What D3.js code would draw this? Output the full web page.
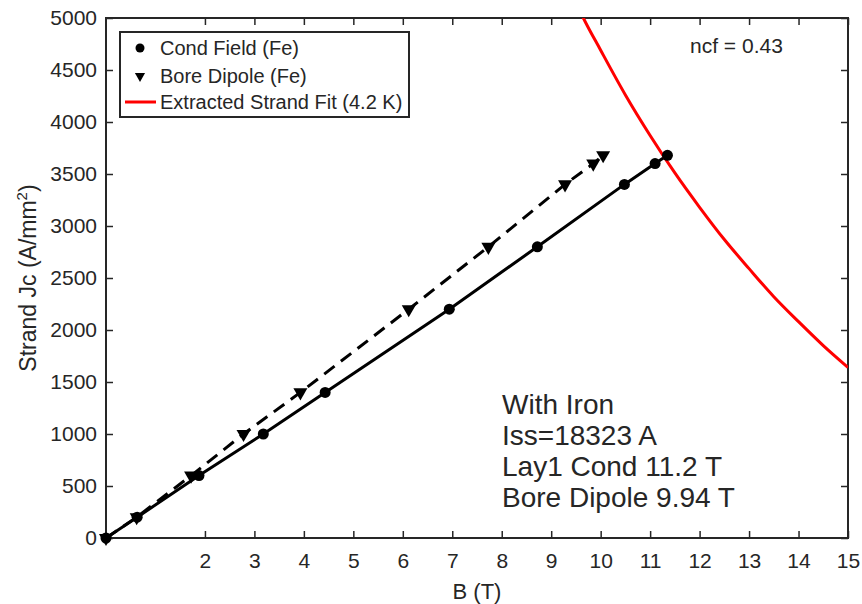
<!DOCTYPE html>
<html>
<head>
<meta charset="utf-8">
<script src="https://cdn.jsdelivr.net/npm/d3@7"></script>
<style>
  body { margin: 0; background: #fff; }
  text { font-family: "Liberation Sans", Arial, Helvetica, sans-serif; fill: #262626; }
</style>
</head>
<body>
<svg width="862" height="604"></svg>
<script>
// conductor field points (circles)
var condB  = [0, 0.63, 1.88, 3.18, 4.43, 6.94, 8.72, 10.48, 11.1, 11.35];
var condJc = [0, 200, 600, 1000, 1400, 2200, 2800, 3400, 3600, 3680];
// bore dipole points (triangles)
var boreB  = [0, 0.62, 1.72, 2.78, 3.93, 6.12, 7.73, 9.28, 9.85, 10.05];
var boreJc = [0, 200, 600, 1000, 1400, 2200, 2800, 3400, 3600, 3680];
// extracted strand fit
var fitB  = [9.5, 9.65, 10, 10.5, 11, 11.5, 12, 12.5, 13, 13.5, 14, 14.5, 15];
var fitJc = [5150, 5000, 4690, 4260, 3870, 3510, 3180, 2870, 2590, 2320, 2080, 1850, 1640];

var xTicks = [2, 3, 4, 5, 6, 7, 8, 9, 10, 11, 12, 13, 14, 15];
var yTicks = [0, 500, 1000, 1500, 2000, 2500, 3000, 3500, 4000, 4500, 5000];

var legendLabels = ["Cond Field (Fe)", "Bore Dipole (Fe)", "Extracted Strand Fit (4.2 K)"];
var notes = ["With Iron", "Iss=18323 A", "Lay1 Cond 11.2 T", "Bore Dipole 9.94 T"];

var svg = d3.select("svg");
var pL = 106, pR = 848, pT = 18, pB = 538;

var x = d3.scaleLinear().domain([0, 15]).range([pL, pR]);
var y = d3.scaleLinear().domain([0, 5000]).range([pB, pT]);

var cond = condB.map((b, i) => ({b: b, j: condJc[i]}));
var bore = boreB.map((b, i) => ({b: b, j: boreJc[i]}));
var fit = fitB.map((b, i) => ({b: b, j: fitJc[i]}));

svg.append("clipPath").attr("id", "plotclip")
  .append("rect").attr("x", pL).attr("y", pT)
  .attr("width", pR - pL).attr("height", pB - pT);

// axes, ticks pointing inward like matlab
var axisColor = "#262626";
function styleAxis(g) {
  g.selectAll(".domain").remove();
  g.selectAll(".tick line").attr("stroke", axisColor).attr("stroke-width", 1.5);
  g.selectAll("text").attr("font-size", 21).attr("fill", axisColor)
    .style("font-family", '"Liberation Sans", Arial, sans-serif');
}

svg.append("g").attr("transform", `translate(0,${pB})`)
  .call(d3.axisBottom(x).tickValues(xTicks).tickSize(-7).tickPadding(15).tickFormat(d3.format("d")))
  .call(styleAxis);
svg.append("g").attr("transform", `translate(0,${pT})`)
  .call(d3.axisTop(x).tickValues(xTicks).tickSize(-7).tickFormat(""))
  .call(styleAxis);
svg.append("g").attr("transform", `translate(${pL},0)`)
  .call(d3.axisLeft(y).tickValues(yTicks).tickSize(-7).tickPadding(9).tickFormat(d3.format("d")))
  .call(styleAxis);
svg.append("g").attr("transform", `translate(${pR},0)`)
  .call(d3.axisRight(y).tickValues(yTicks).tickSize(-7).tickFormat(""))
  .call(styleAxis);

svg.append("rect")
  .attr("x", pL).attr("y", pT)
  .attr("width", pR - pL).attr("height", pB - pT)
  .attr("fill", "none").attr("stroke", axisColor).attr("stroke-width", 2);

var line = d3.line().x(d => x(d.b)).y(d => y(d.j));
var plot = svg.append("g").attr("clip-path", "url(#plotclip)");

// lines
plot.append("path").datum(bore)
  .attr("d", line).attr("fill", "none")
  .attr("stroke", "#000").attr("stroke-width", 3)
  .attr("stroke-dasharray", "13,8");
plot.append("path").datum(cond)
  .attr("d", line).attr("fill", "none")
  .attr("stroke", "#000").attr("stroke-width", 3);

plot.append("path").datum(fit)
  .attr("d", d3.line().curve(d3.curveMonotoneX).x(d => x(d.b)).y(d => y(d.j)))
  .attr("fill", "none").attr("stroke", "#ff0000").attr("stroke-width", 3);

// markers (not clipped, as in matlab)
var tri = d3.symbol().type(d3.symbolTriangle).size(85);
svg.selectAll(".tri").data(bore).enter().append("path")
  .attr("class", "tri")
  .attr("d", tri)
  .attr("transform", d => `translate(${x(d.b)},${y(d.j)}) rotate(180)`)
  .attr("fill", "#000");
svg.selectAll(".dot").data(cond).enter().append("circle")
  .attr("class", "dot")
  .attr("cx", d => x(d.b)).attr("cy", d => y(d.j))
  .attr("r", 5.5).attr("fill", "#000");

// legend
var lg = svg.append("g");
lg.append("rect").attr("x", 120).attr("y", 32).attr("width", 289).attr("height", 85)
  .attr("fill", "#fff").attr("stroke", axisColor).attr("stroke-width", 2);
var rowY = [48, 76, 102];
lg.append("circle").attr("cx", 140).attr("cy", rowY[0]).attr("r", 4.5).attr("fill", "#000");
lg.append("path").attr("d", d3.symbol().type(d3.symbolTriangle).size(45))
  .attr("transform", `translate(140,${rowY[1]}) rotate(180)`).attr("fill", "#000");
lg.append("line").attr("x1", 125).attr("x2", 156).attr("y1", rowY[2]).attr("y2", rowY[2])
  .attr("stroke", "#ff0000").attr("stroke-width", 3);
lg.selectAll(".lt").data(legendLabels).enter().append("text")
  .attr("class", "lt")
  .attr("x", 160).attr("y", (d, i) => rowY[i] + 7)
  .attr("font-size", 20).attr("fill", "#000")
  .text(d => d);

// annotations
svg.append("text").attr("x", 690).attr("y", 53).attr("font-size", 21).attr("fill", "#000")
  .text("ncf = 0.43");
svg.selectAll(".note").data(notes).enter().append("text")
  .attr("class", "note")
  .attr("x", 502).attr("y", (d, i) => 414 + i * 31)
  .attr("font-size", 28).attr("fill", "#000")
  .text(d => d);

// axis labels
svg.append("text").attr("x", (pL + pR) / 2).attr("y", 599)
  .attr("text-anchor", "middle").attr("font-size", 22)
  .text("B (T)");
var yl = svg.append("text")
  .attr("transform", `translate(36,${(pT + pB) / 2}) rotate(-90)`)
  .attr("text-anchor", "middle").attr("font-size", 23);
yl.append("tspan").text("Strand Jc (A/mm");
yl.append("tspan").attr("font-size", 15).attr("dy", -9).text("2");
yl.append("tspan").attr("dy", 9).text(")");
</script>
</body>
</html>
